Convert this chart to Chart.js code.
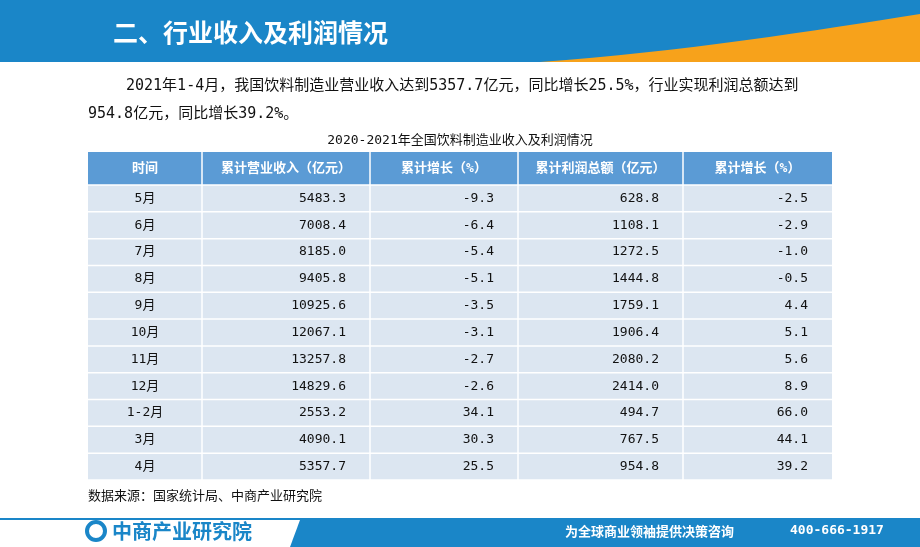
<!DOCTYPE html>
<html><head><meta charset="utf-8">
<script src="https://cdn.jsdelivr.net/npm/chart.js@4"></script>
<style>html,body{margin:0;padding:0;background:#fff}#w{width:920px;height:547px}</style>
</head><body><div id="w"><canvas id="c"></canvas></div>
<script>
const headers=["时间","累计营业收入（亿元）","累计增长（%）","累计利润总额（亿元）","累计增长（%）"];
const months=["5月","6月","7月","8月","9月","10月","11月","12月","1-2月","3月","4月"];
const revenue=["5483.3","7008.4","8185.0","9405.8","10925.6","12067.1","13257.8","14829.6","2553.2","4090.1","5357.7"];
const revGrowth=["-9.3","-6.4","-5.4","-5.1","-3.5","-3.1","-2.7","-2.6","34.1","30.3","25.5"];
const profit=["628.8","1108.1","1272.5","1444.8","1759.1","1906.4","2080.2","2414.0","494.7","767.5","954.8"];
const profGrowth=["-2.5","-2.9","-1.0","-0.5","4.4","5.1","5.6","8.9","66.0","44.1","39.2"];
const title="二、行业收入及利润情况";
const para1="2021年1-4月，我国饮料制造业营业收入达到5357.7亿元，同比增长25.5%，行业实现利润总额达到";
const para2="954.8亿元，同比增长39.2%。";
const caption="2020-2021年全国饮料制造业收入及利润情况";
const source="数据来源：国家统计局、中商产业研究院";
const slogan="为全球商业领袖提供决策咨询";
const phone="400-666-1917";

const colEdges=[88,202,370,518,683,832];
const F='"Noto Sans CJK SC","Noto Sans",sans-serif';
const M='"DejaVu Sans Mono","Noto Sans CJK SC",monospace';
const tablePlugin={id:'tbl',afterDraw(ch){
 const c=ch.ctx,X=v=>ch.scales.x.getPixelForValue(v),Y=v=>ch.scales.y.getPixelForValue(v);
 c.save();
 c.fillStyle='#1a86c8';c.fillRect(X(0),Y(0),X(920)-X(0),Y(62)-Y(0));
 c.fillStyle='#f7a21b';c.beginPath();c.moveTo(X(540),Y(62));c.bezierCurveTo(X(680),Y(52),X(820),Y(30),X(920),Y(14));c.lineTo(X(920),Y(62));c.closePath();c.fill();
 c.fillStyle='#fff';c.font='bold 25px '+F;c.textBaseline='middle';c.textAlign='left';c.fillText(title,X(113),Y(32));
 c.fillStyle='#111';c.font='15px '+M;c.fillText(para1,X(126),Y(86));c.fillText(para2,X(88),Y(114));
 c.font='13px '+M;c.textAlign='center';c.fillText(caption,X(460),Y(141));
 const rows=months.map((m,i)=>[m,revenue[i],revGrowth[i],profit[i],profGrowth[i]]);
 const top=152,hh=33,rh=(480-185)/rows.length;
 c.fillStyle='#5b9bd5';c.fillRect(X(88),Y(top),X(832)-X(88),Y(top+hh)-Y(top));
 c.fillStyle='#dce6f1';c.fillRect(X(88),Y(top+hh),X(832)-X(88),Y(480)-Y(top+hh));
 c.strokeStyle='#fff';c.lineWidth=1.5;
 for(let i=1;i<colEdges.length-1;i++){c.beginPath();c.moveTo(X(colEdges[i]),Y(top));c.lineTo(X(colEdges[i]),Y(480));c.stroke();}
 for(let r=0;r<=rows.length;r++){const y=Y(top+hh+r*rh);c.beginPath();c.moveTo(X(88),y);c.lineTo(X(832),y);c.stroke();}
 c.fillStyle='#fff';c.font='bold 13px '+M;c.textAlign='center';
 headers.forEach((h,i)=>c.fillText(h,(X(colEdges[i])+X(colEdges[i+1]))/2,Y(top+hh/2)));
 c.fillStyle='#111';c.font='13px '+M;
 rows.forEach((row,r)=>{const y=Y(top+hh+(r+.5)*rh);row.forEach((v,i)=>{
   if(i===0){c.textAlign='center';c.fillText(v,(X(colEdges[0])+X(colEdges[1]))/2,y);}
   else{c.textAlign='right';c.fillText(v,X(colEdges[i+1]-24),y);}});});
 c.textAlign='left';c.font='13px '+F;c.fillText(source,X(88),Y(495));
 c.fillStyle='#1a86c8';c.fillRect(X(0),Y(518),X(920)-X(0),Y(520)-Y(518));
 c.beginPath();c.moveTo(X(300),Y(520));c.lineTo(X(920),Y(520));c.lineTo(X(920),Y(547));c.lineTo(X(290),Y(547));c.closePath();c.fill();
 c.fillStyle='#1a86c8';c.font='bold 20px '+F;c.fillText('中商产业研究院',X(112),Y(531));
 c.beginPath();c.arc(X(96),Y(531),9,0,Math.PI*2);c.lineWidth=4;c.strokeStyle='#1a86c8';c.stroke();
 c.fillStyle='#fff';c.font='bold 13px '+F;c.fillText(slogan,X(565),Y(531));c.font='bold 13px '+M;c.fillText(phone,X(790),Y(531));
 c.restore();
}};
new Chart(document.getElementById('c'),{type:'scatter',data:{datasets:[{data:[]}]},
 options:{responsive:true,maintainAspectRatio:false,animation:false,layout:{padding:0},
  plugins:{legend:{display:false},tooltip:{enabled:false}},
  scales:{x:{type:'linear',min:0,max:920,display:false},y:{type:'linear',min:0,max:547,reverse:true,display:false}}},
 plugins:[tablePlugin]});
</script></body></html>
